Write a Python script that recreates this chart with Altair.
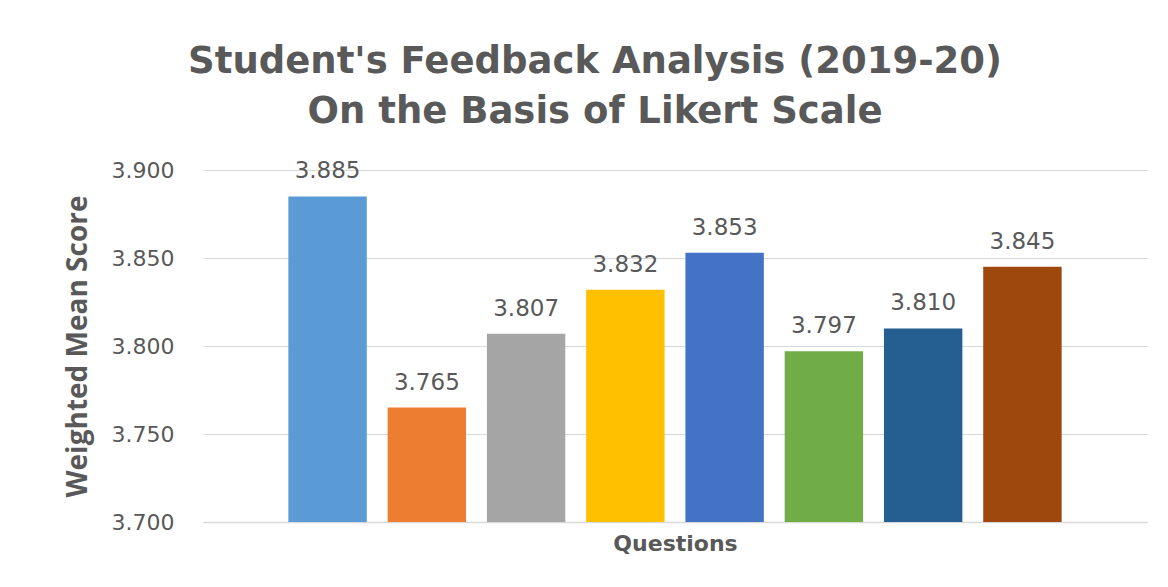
import altair as alt
import pandas as pd

questions = ["Q1", "Q2", "Q3", "Q4", "Q5", "Q6", "Q7", "Q8"]
scores = [3.885, 3.765, 3.807, 3.832, 3.853, 3.797, 3.810, 3.845]
colors = ["#5B9BD5", "#ED7D31", "#A5A5A5", "#FFC000", "#4472C4", "#70AD47", "#255E91", "#9E480E"]
y_ticks = [3.700, 3.750, 3.800, 3.850, 3.900]

df = pd.DataFrame({"question": questions, "score": scores})

FONT = "DejaVu Sans"
GREY = "#595959"

x = alt.X("question:N", sort=questions, title="Questions",
          scale=alt.Scale(paddingInner=0.21, paddingOuter=0.86),
          axis=alt.Axis(labels=False, ticks=False, domainColor="#D9D9D9", domainWidth=1.5,
                        titleFont=FONT, titleFontSize=22, titleFontWeight="bold",
                        titleColor=GREY, titlePadding=11))
y = alt.Y("score:Q", title="Weighted Mean Score",
          scale=alt.Scale(domain=[3.7, 3.9], zero=False, nice=False, clamp=True),
          axis=alt.Axis(values=y_ticks, format=".3f", ticks=False, domain=False,
                        gridColor="#D9D9D9", labelFont=FONT, labelFontSize=22,
                        labelColor=GREY, labelPadding=29,
                        titleFont="Open Sans", titleFontSize=28, titleFontWeight="bold",
                        titleColor=GREY, titlePadding=19))

bars = alt.Chart(df).mark_bar().encode(
    x=x, y=y,
    color=alt.Color("question:N", scale=alt.Scale(domain=questions, range=colors), legend=None),
)
labels = alt.Chart(df).mark_text(baseline="alphabetic", dy=-18, font=FONT, fontSize=23, color=GREY).encode(
    x=alt.X("question:N", sort=questions),
    y="score:Q",
    text=alt.Text("score:Q", format=".3f"),
)

chart = alt.layer(bars, labels).properties(
    width=944, height=352,
    autosize=alt.AutoSizeParams(type="none"),
    padding={"left": 195, "top": 162, "right": 13, "bottom": 50},
    background="white",
    title=alt.TitleParams(
        ["Student's Feedback Analysis (2019-20)", "On the Basis of Likert Scale"],
        font=FONT, fontSize=37, fontWeight="bold", color=GREY, lineHeight=50,
        anchor="middle", dx=-80, offset=28,
    ),
).configure_view(stroke=None)

chart.save("out.html", embed_options={"renderer": "svg", "actions": False})
